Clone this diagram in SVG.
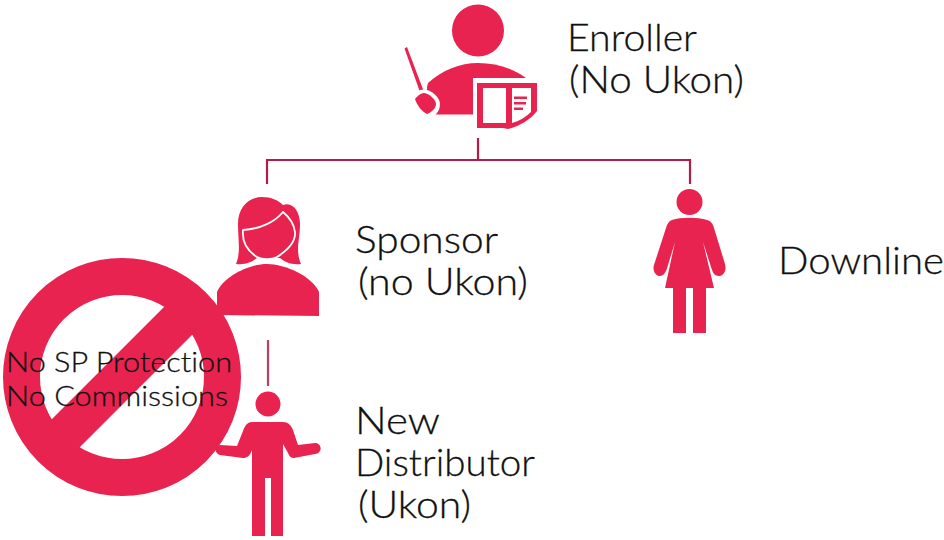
<svg xmlns="http://www.w3.org/2000/svg" width="944" height="540" viewBox="0 0 944 540">
<style>
.p{fill:#e8234f}
.w{fill:#fff}
text{fill:#111;stroke:#111;stroke-width:.3px;font-family:"Lato","Open Sans",sans-serif;font-weight:300;font-variant-ligatures:none}
.l{font-size:37px}
.s{font-size:28px}
.c{fill:none;stroke:#b51c45;stroke-width:2.200}
</style>
<rect width="944" height="540" fill="#fff"/>
<g id="connectors">
<path class="c" d="M478 138V160M267 184V160H690V184"/>
<path class="c" d="M268 340V386" stroke-opacity=".85"/>
</g>
<g id="enroller">
<circle class="p" cx="478" cy="30.500" r="26"/>
<path class="p" d="M433 114.500C428 102 425 92 428 83C442 70 460 63 478 63C496 63 512 68 526 78V114.500Z"/>
<path class="p" d="M404.500 48.500L407 47L424 92L420.500 93.500Z"/>
<path class="w" d="M420 90C428 87 440 96 440 104C440 112 434 117 429 119L418 118L410 100Z"/>
<path class="p" d="M415 99C418 95 422 93 424 93C430 94 436 100 436 104C436 108 432 112 427 114C421 111 417 105 415 99Z"/>
<path class="w" d="M473 78H540V112L530 124L505 134H473Z"/>
<path class="p" d="M477 83H537V111C530 120 520 126 508 129L503 128H477Z"/>
<rect class="w" x="483" y="88" width="23" height="35"/>
<path class="w" d="M512 88H531V112C526 117 519 121 512 123Z"/>
<path class="p" d="M514 96.500H527V99H514ZM514 102H526V104.500H514ZM514 107.500H523V110H514Z"/>
</g>
<g id="sponsor">
<path class="p" d="M238 224C238 206 250 197 262 197C271 197 278 200 283 205C293 201 300 212 300 224C300 240 295 250 301 264C291 265 285 262 280 258L257 258C252 262 246 265 236 264C241 252 238 240 238 224Z"/>
<path class="p" d="M217 315V292C224 276 250 264 267 264C285 264 312 276 319 292V316Z"/>
<path d="M283 212C275 222 260 229 243 230C242 240 246 250 257 257C262 260 272 260 277 257C288 250 296 242 295 232C294 224 289 217 283 212Z" fill="#e8234f" stroke="#fff" stroke-width="1.800"/>
</g>
<g id="downline">
<circle class="p" cx="689.500" cy="202" r="13"/>
<path class="p" d="M672 220C680 217 698 217 707 220C711 221 713 224 714 228L725 264C727 271 723 276 719 276C715 276 713 273 712 270L703 242L714 288H706V333H693V288H686V333H673V288H665L675 242L666.500 270C665 273 663 276 660 276C656 276 652 271 654 265L666 228C667 224 669 221 672 220Z"/>
</g>
<g id="new-distributor">
<circle class="p" cx="268" cy="404" r="12.500"/>
<path class="p" d="M252 422H283C288 422 291 425 293 430L298 445L315 443C322 443 323 453 315 454L294 458C291 458 289 456 288 453L283 444V536H271V478H265V536H252V450C250 456 247 458 243 458L220 455C214 453 214 446 220 445L237 446L243 431C245 425 248 422 252 422Z"/>
</g>
<g id="prohibition">
<circle cx="122" cy="377" r="100.500" fill="none" stroke="#e8234f" stroke-width="37"/>
<path class="p" d="M176 295L204 323L68 459L40 431Z"/>
</g>
<g id="labels">
<text class="l" x="567" y="51" textLength="130" lengthAdjust="spacingAndGlyphs">Enroller</text>
<text class="l" x="569" y="93" textLength="175" lengthAdjust="spacingAndGlyphs">(No Ukon)</text>
<text class="l" x="355" y="253" textLength="143" lengthAdjust="spacingAndGlyphs">Sponsor</text>
<text class="l" x="358" y="295" textLength="170" lengthAdjust="spacingAndGlyphs">(no Ukon)</text>
<text class="l" x="778" y="274" textLength="166" lengthAdjust="spacingAndGlyphs">Downline</text>
<text class="l" x="355" y="434" textLength="85" lengthAdjust="spacingAndGlyphs">New</text>
<text class="l" x="355" y="476" textLength="180" lengthAdjust="spacingAndGlyphs">Distributor</text>
<text class="l" x="358" y="518" textLength="113" lengthAdjust="spacingAndGlyphs">(Ukon)</text>
<text class="s" x="6" y="372" textLength="226" lengthAdjust="spacingAndGlyphs">No SP Protection</text>
<text class="s" x="6" y="406" textLength="222" lengthAdjust="spacingAndGlyphs">No Commissions</text>
</g>
</svg>
